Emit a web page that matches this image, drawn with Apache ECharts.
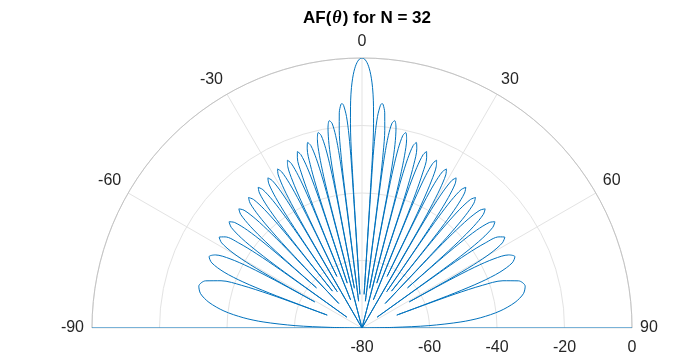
<!DOCTYPE html>
<html>
<head>
<meta charset="utf-8">
<script src="https://cdn.jsdelivr.net/npm/echarts@6/dist/echarts.min.js"></script>
<style>
html,body{margin:0;padding:0;background:#fff;}
#chart{width:683px;height:362px;}
</style>
</head>
<body>
<div id="chart"></div>
<script>
// Angle ticks (degrees) and radial ticks (dB)
const angleTicks = [-90, -60, -30, 0, 30, 60, 90];
const radiusTicks = [-80, -60, -40, -20, 0];

// AF(theta) in dB: right half, 0 -> 90 deg
const rightTheta = [
  0, 0.358, 0.716, 1.074, 1.433, 1.791, 2.149, 2.508, 2.866, 3.225, 3.476,
  3.583,
  3.691, 3.870, 4.194, 4.732, 5.092, 5.379, 6.027, 6.568, 6.892, 7.072,
  7.181,
  7.289, 7.470, 7.795, 8.337, 8.989, 9.643, 10.188, 10.515, 10.697,
  10.807,
  10.916, 11.099, 11.427, 11.976, 12.636, 13.297, 13.850, 14.182, 14.367,
  14.478,
  14.588, 14.774, 15.107, 15.664, 16.335, 17.008, 17.570, 17.909, 18.097,
  18.210,
  18.323, 18.512, 18.852, 19.421, 20.106, 20.794, 21.370, 21.716, 21.909,
  22.024,
  22.140, 22.333, 22.682, 23.266, 23.969, 24.676, 25.269, 25.626, 25.825,
  25.944,
  26.064, 26.263, 26.623, 27.225, 27.953, 28.685, 29.299, 29.670, 29.876,
  30.000,
  30.124, 30.331, 30.705, 31.332, 32.090, 32.854, 33.496, 33.883, 34.099,
  34.229,
  34.359, 34.576, 34.969, 35.627, 36.424, 37.229, 37.907, 38.317, 38.545,
  38.682,
  38.820, 39.050, 39.466, 40.166, 41.014, 41.874, 42.599, 43.039, 43.284,
  43.433,
  43.581, 43.829, 44.277, 45.032, 45.952, 46.887, 47.679, 48.160, 48.429,
  48.590,
  48.753, 49.025, 49.519, 50.353, 51.374, 52.419, 53.308, 53.851, 54.155,
  54.341,
  54.526, 54.835, 55.399, 56.356, 57.539, 58.760, 59.811, 60.458, 60.823,
  61.045,
  61.119, 61.268, 61.642, 62.329, 63.508, 64.992, 66.563, 67.953, 68.828, 69.329, 69.533,
  69.636,
  69.739, 69.947, 70.476, 71.465, 73.238, 75.630, 77.994, 80.488, 82.979, 85.037, 86.491, 87.974, 88.890,
  90
];
const rightDb = [
  0, -0.14, -0.58, -1.32, -2.42, -3.92, -5.94, -8.68, -12.61, -19.22, -30.19,
  -70,
  -30.72, -22.69, -17.16, -13.80, -13.24, -13.43, -15.88, -21.02, -27.65, -36.31,
  -72,
  -36.59, -28.35, -22.48, -18.65, -17.81, -19.87, -24.73, -31.21, -39.79,
  -68,
  -39.98, -31.68, -25.70, -21.68, -20.65, -22.54, -27.27, -33.68, -42.22,
  -80,
  -42.36, -34.02, -27.97, -23.86, -22.72, -24.51, -29.16, -35.53, -44.05,
  -66,
  -44.19, -35.82, -29.72, -25.54, -24.32, -26.05, -30.66, -37.01, -45.52,
  -71,
  -45.59, -37.21, -31.09, -26.87, -25.60, -27.28, -31.85, -38.18, -46.67,
  -63,
  -46.73, -38.34, -32.20, -27.95, -26.65, -28.28, -32.82, -39.13, -47.62,
  -80,
  -47.67, -39.26, -33.11, -28.83, -27.50, -29.11, -33.62, -39.92, -48.39,
  -67,
  -48.43, -40.03, -33.86, -29.56, -28.20, -29.78, -34.27, -40.56, -49.03,
  -66,
  -49.06, -40.65, -34.47, -30.15, -28.77, -30.33, -34.80, -41.08, -49.54,
  -70,
  -49.57, -41.15, -34.96, -30.62, -29.23, -30.77, -35.23, -41.49, -49.95,
  -62,
  -49.97, -41.54, -35.35, -31.00, -29.58, -31.11, -35.55, -41.80, -50.25,
  -74.5,
  -50.27, -41.84, -35.64, -31.27, -29.84, -31.35, -35.78, -42.02, -50.47,
  -64,
  -60.01, -50.48, -42.05, -35.84, -31.46, -30.01, -31.50, -35.92, -42.15, -50.60, -60.13,
  -69,
  -60.13, -50.60, -42.17, -35.95, -31.56, -30.09, -31.10, -34.02, -38.79, -44.66, -50.64, -60.17, -70.62,
  -80
];

// Left half, read outward from 0 to -90 deg
const leftTheta = [
  -0.358, -0.716, -1.074, -1.433, -1.791, -2.149, -2.508, -2.866, -3.225, -3.476,
  -3.583,
  -3.691, -3.870, -4.194, -4.732, -5.092, -5.379, -6.027, -6.568, -6.892, -7.072,
  -7.181,
  -7.289, -7.470, -7.795, -8.337, -8.989, -9.643, -10.188, -10.515, -10.697,
  -10.807,
  -10.916, -11.099, -11.427, -11.976, -12.636, -13.297, -13.850, -14.182, -14.367,
  -14.478,
  -14.588, -14.774, -15.107, -15.664, -16.335, -17.008, -17.570, -17.909, -18.097,
  -18.210,
  -18.323, -18.512, -18.852, -19.421, -20.106, -20.794, -21.370, -21.716, -21.909,
  -22.024,
  -22.140, -22.333, -22.682, -23.266, -23.969, -24.676, -25.269, -25.626, -25.825,
  -25.944,
  -26.064, -26.263, -26.623, -27.225, -27.953, -28.685, -29.299, -29.670, -29.876,
  -30.000,
  -30.124, -30.331, -30.705, -31.332, -32.090, -32.854, -33.496, -33.883, -34.099,
  -34.229,
  -34.359, -34.576, -34.969, -35.627, -36.424, -37.229, -37.907, -38.317, -38.545,
  -38.682,
  -38.820, -39.050, -39.466, -40.166, -41.014, -41.874, -42.599, -43.039, -43.284,
  -43.433,
  -43.581, -43.829, -44.277, -45.032, -45.952, -46.887, -47.679, -48.160, -48.429,
  -48.590,
  -48.753, -49.025, -49.519, -50.353, -51.374, -52.419, -53.308, -53.851, -54.155,
  -54.341,
  -54.526, -54.835, -55.399, -56.356, -57.539, -58.760, -59.811, -60.458, -60.823,
  -61.045,
  -61.119, -61.268, -61.642, -62.329, -63.508, -64.992, -66.563, -67.953, -68.828, -69.329, -69.533,
  -69.636,
  -69.739, -69.947, -70.476, -71.465, -73.238, -75.630, -77.994, -80.488, -82.979, -85.037, -86.491, -87.974, -88.890,
  -90
];
const leftDb = [
  -0.14, -0.58, -1.32, -2.42, -3.92, -5.94, -8.68, -12.61, -19.22, -30.19,
  -70,
  -30.72, -22.69, -17.16, -13.80, -13.24, -13.43, -15.88, -21.02, -27.65, -36.31,
  -72,
  -36.59, -28.35, -22.48, -18.65, -17.81, -19.87, -24.73, -31.21, -39.79,
  -68,
  -39.98, -31.68, -25.70, -21.68, -20.65, -22.54, -27.27, -33.68, -42.22,
  -80,
  -42.36, -34.02, -27.97, -23.86, -22.72, -24.51, -29.16, -35.53, -44.05,
  -66,
  -44.19, -35.82, -29.72, -25.54, -24.32, -26.05, -30.66, -37.01, -45.52,
  -71,
  -45.59, -37.21, -31.09, -26.87, -25.60, -27.28, -31.85, -38.18, -46.67,
  -63,
  -46.73, -38.34, -32.20, -27.95, -26.65, -28.28, -32.82, -39.13, -47.62,
  -80,
  -47.67, -39.26, -33.11, -28.83, -27.50, -29.11, -33.62, -39.92, -48.39,
  -67,
  -48.43, -40.03, -33.86, -29.56, -28.20, -29.78, -34.27, -40.56, -49.03,
  -66,
  -49.06, -40.65, -34.47, -30.15, -28.77, -30.33, -34.80, -41.08, -49.54,
  -70,
  -49.57, -41.15, -34.96, -30.62, -29.23, -30.77, -35.23, -41.49, -49.95,
  -62,
  -49.97, -41.54, -35.35, -31.00, -29.58, -31.11, -35.55, -41.80, -50.25,
  -74.5,
  -50.27, -41.84, -35.64, -31.27, -29.84, -31.35, -35.78, -42.02, -50.47,
  -64,
  -60.01, -50.48, -42.05, -35.84, -31.46, -30.01, -31.50, -35.92, -42.15, -50.60, -60.13,
  -69,
  -60.13, -50.60, -42.17, -35.95, -31.56, -30.09, -31.10, -34.02, -38.79, -44.66, -50.64, -60.17, -70.62,
  -80
];

// Values at the +/-90 deg ends fall far below the radial minimum and show
// as a straight trace along the diameter
const tailTheta = [-90, 0, 90];
const tailDb = [0, -80, 0];

const curve = [];
for (let i = leftTheta.length - 1; i >= 0; i--) curve.push([leftDb[i], leftTheta[i]]);
for (let i = 0; i < rightTheta.length; i++) curve.push([rightDb[i], rightTheta[i]]);
const tail = tailTheta.map((t, i) => [tailDb[i], t]);

const chart = echarts.init(document.getElementById('chart'), null, {renderer: 'canvas'});
const tickFont = {fontFamily: 'Liberation Sans, Arial, sans-serif', fontSize: 16, color: '#262626'};
const lineColor = '#0072BD';

chart.setOption({
  animation: false,
  backgroundColor: '#ffffff',
  title: {
    text: '{b|AF(}{t|θ}{b|) for N = 32}',
    left: 362,
    textAlign: 'center',
    top: 3,
    textStyle: {
      rich: {
        b: {fontFamily: 'Liberation Sans, Arial, sans-serif', fontWeight: 'bold', fontSize: 17, color: '#000', lineHeight: 20},
        t: {fontFamily: 'Liberation Serif, serif', fontStyle: 'italic', fontSize: 18, color: '#000', lineHeight: 20, padding: [0, 1, 0, 1]}
      }
    }
  },
  polar: [
    {center: [362, 328], radius: 270},
    {center: [362, 328], radius: 270}
  ],
  angleAxis: [
    {
      polarIndex: 0, type: 'value', min: angleTicks[0], max: angleTicks[angleTicks.length - 1], interval: 30,
      startAngle: 180, endAngle: 0, clockwise: true, z: 4,
      axisLine: {show: true, lineStyle: {color: '#c4c4c4', width: 1}},
      axisTick: {show: false},
      axisLabel: Object.assign({margin: 8}, tickFont),
      splitLine: {show: true, lineStyle: {color: '#e3e3e3', width: 1}}
    },
    {
      polarIndex: 1, type: 'value', min: angleTicks[0], max: angleTicks[angleTicks.length - 1],
      startAngle: 0, endAngle: 180, clockwise: false, show: false
    }
  ],
  radiusAxis: [
    {
      polarIndex: 0, type: 'value', min: radiusTicks[0], max: radiusTicks[radiusTicks.length - 1], interval: 20, z: 1,
      axisLine: {show: false}, axisTick: {show: false}, axisLabel: {show: false},
      splitLine: {show: true, lineStyle: {color: '#e3e3e3', width: 1}}
    },
    {
      polarIndex: 1, type: 'value', min: radiusTicks[0], max: radiusTicks[radiusTicks.length - 1], interval: 20,
      axisLine: {show: false}, axisTick: {show: false}, splitLine: {show: false},
      axisLabel: Object.assign({margin: -20, verticalAlign: 'middle', align: 'center'}, tickFont)
    }
  ],
  series: [
    {
      type: 'line', coordinateSystem: 'polar', polarIndex: 0, data: curve,
      showSymbol: false, symbol: 'none', clip: false, smooth: 0.3, z: 5,
      lineStyle: {color: lineColor, width: 1}
    },
    {
      type: 'line', coordinateSystem: 'polar', polarIndex: 0, data: tail,
      showSymbol: false, symbol: 'none', clip: false, z: 5,
      lineStyle: {color: lineColor, width: 1}
    }
  ]
});
</script>
</body>
</html>
